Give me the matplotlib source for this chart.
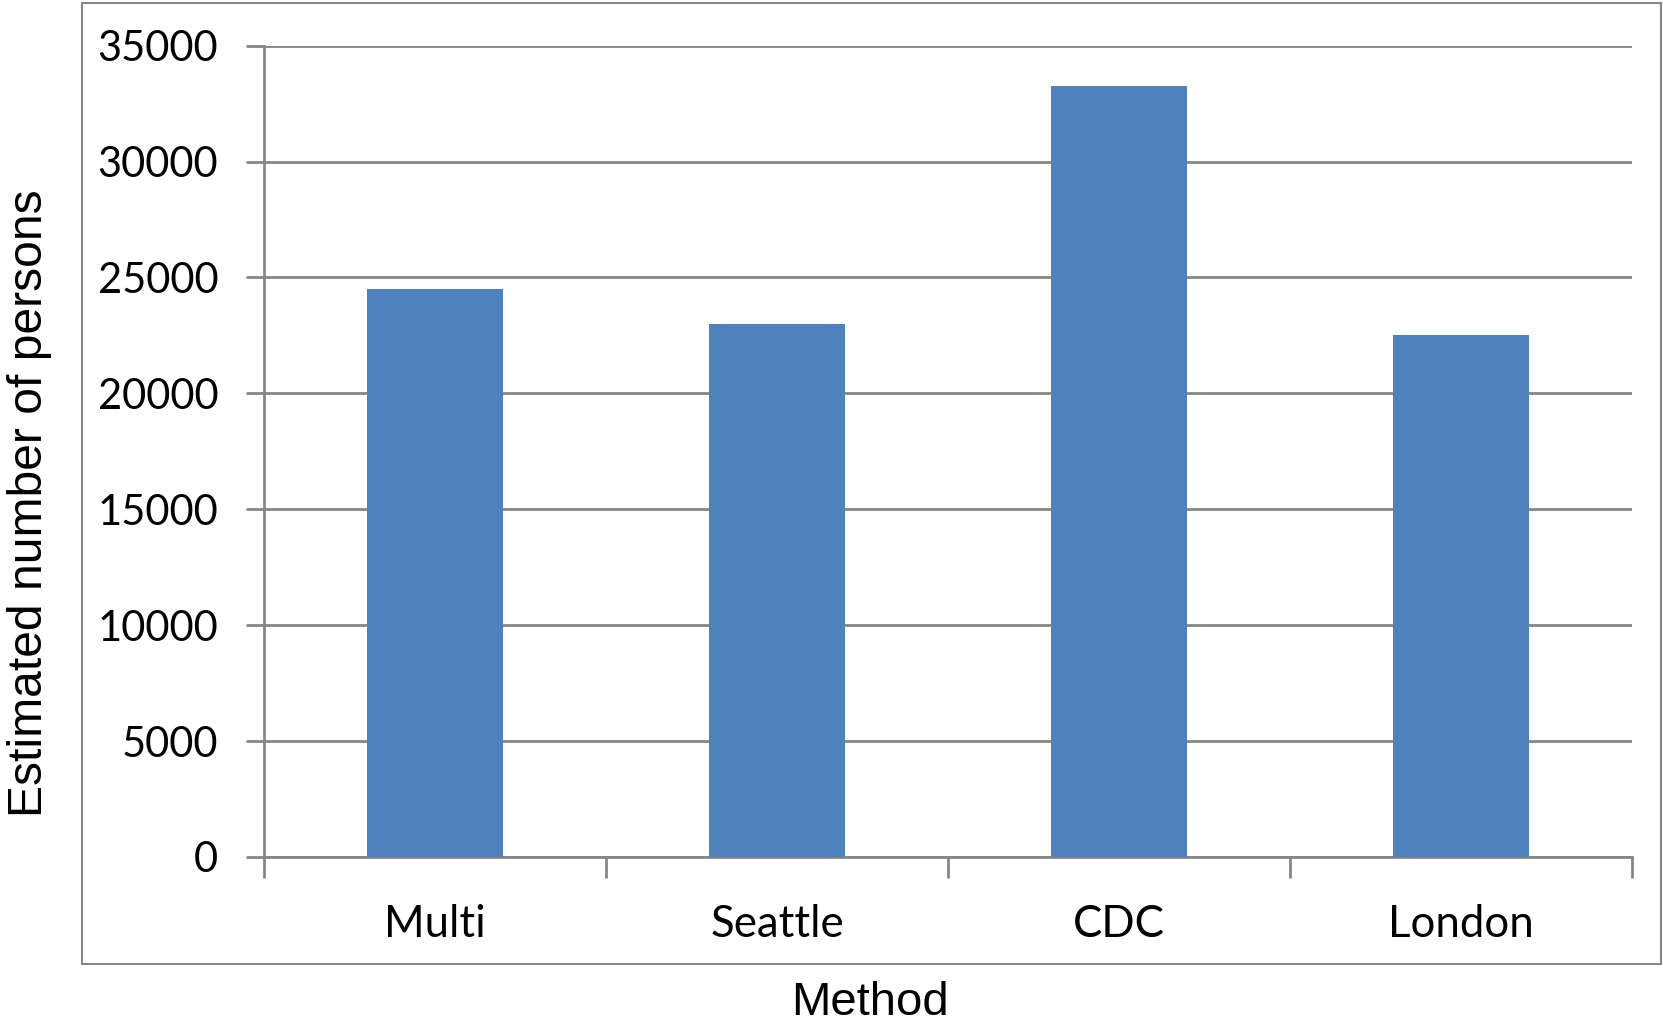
import matplotlib
matplotlib.use("Agg")
import matplotlib.pyplot as plt
from matplotlib.patches import Rectangle
import numpy as np

# Estimates per method
methods = ["Multi", "Seattle", "CDC", "London"]
persons = [24500, 23000, 33250, 22500]
yticks = [0, 5000, 10000, 15000, 20000, 25000, 30000, 35000]

bar_color = "#4F81BD"
line_color = "#868686"

fig = plt.figure(figsize=(16.63, 10.24), dpi=100)
ax = fig.add_axes([0.1588, 0.1631, 0.9814 - 0.1588, 0.9554 - 0.1631])

x = np.arange(len(methods))
ax.bar(x, persons, width=0.4, color=bar_color, zorder=3)

ax.set_xlim(-0.5, len(methods) - 0.5)
ax.set_ylim(0, 35000)
ax.set_yticks(yticks)
ax.set_yticklabels([str(v) for v in yticks])
ax.grid(axis="y", color=line_color, linewidth=2, zorder=0)

# category labels sit between boundary ticks
ax.set_xticks(np.arange(-0.5, len(methods), 1.0))
ax.set_xticklabels([])
ax.set_xticks(x, minor=True)
ax.set_xticklabels(methods, minor=True)
ax.tick_params(axis="x", which="major", length=15, width=2, color=line_color, direction="out")
ax.tick_params(axis="x", which="minor", length=0, pad=34, labelsize=31.5)
ax.tick_params(axis="y", length=13, width=2, color=line_color, pad=20, labelsize=30)
for lab in ax.get_xticklabels(minor=True) + ax.get_yticklabels():
    lab.set_fontfamily("Lato")

for side in ["top", "right"]:
    ax.spines[side].set_visible(False)
for side in ["left", "bottom"]:
    ax.spines[side].set_color(line_color)
    ax.spines[side].set_linewidth(2)

# chart area border
fig.patches.append(Rectangle((0.0493, 0.0586), 0.9495, 0.9385, transform=fig.transFigure,
                             fill=False, edgecolor=line_color, linewidth=1.5))

fig.text(0.523, 0.0205, "Method", ha="center", va="center",
         fontsize=34, fontfamily="Liberation Sans")
fig.text(0.0178, 0.509, "Estimated number of persons", ha="center", va="center",
         rotation=90, fontsize=34.6, fontfamily="Liberation Sans")

fig.savefig("out.png", dpi=100)
